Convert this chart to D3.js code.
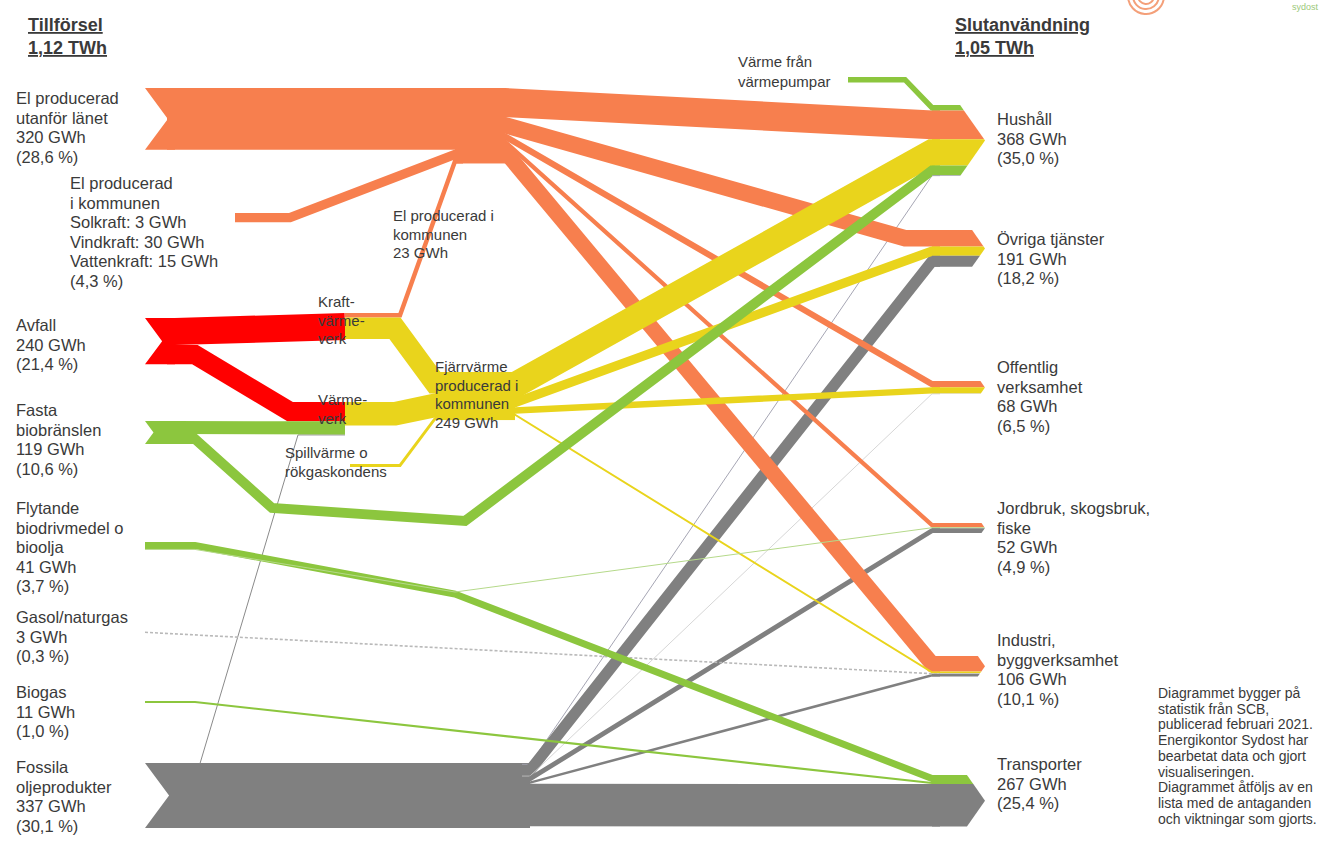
<!DOCTYPE html>
<html>
<head>
<meta charset="utf-8">
<script src="https://cdn.jsdelivr.net/npm/d3@7"></script>
<style>
  body { margin: 0; background: #fff; }
  svg text { font-family: "Liberation Sans", Arial, sans-serif; fill: #3a3a3a; }
</style>
</head>
<body>
<svg id="chart" width="1342" height="860"></svg>
<script>
// Tillförsel (GWh)
const supplyIds = ["elUt", "elKom", "avfall", "fasta", "flyt", "gas", "biogas", "fossil"];
const supplyNames = [
  ["El producerad", "utanför länet"],
  ["El producerad", "i kommunen"],
  ["Avfall"],
  ["Fasta", "biobränslen"],
  ["Flytande", "biodrivmedel o", "bioolja"],
  ["Gasol/naturgas"],
  ["Biogas"],
  ["Fossila", "oljeprodukter"],
];
const supplyValues = [320, 48, 240, 119, 41, 3, 11, 337];
const supplyShares = ["28,6", "4,3", "21,4", "10,6", "3,7", "0,3", "1,0", "30,1"];
const elKomParts = ["Solkraft", "Vindkraft", "Vattenkraft"];
const elKomValues = [3, 30, 15];

// Slutanvändning (GWh)
const useIds = ["hushall", "ovriga", "offentlig", "jordbruk", "industri", "transport"];
const useNames = [
  ["Hushåll"],
  ["Övriga tjänster"],
  ["Offentlig", "verksamhet"],
  ["Jordbruk, skogsbruk,", "fiske"],
  ["Industri,", "byggverksamhet"],
  ["Transporter"],
];
const useValues = [368, 191, 68, 52, 106, 267];
const useShares = ["35,0", "18,2", "6,5", "4,9", "10,1", "25,4"];

// omvandling i kommunen
const midIds = ["elHub", "kvv", "vv", "fvHub", "spill", "vp"];
const midValues = [391, 140, 173, 249, 15, 28];

// flöden [från, till, GWh] - ordningen styr staplingen i noderna
const flows = [
  ["elUt", "elHub", 320],
  ["elKom", "elHub", 48],
  ["kvv", "elHub", 23],
  ["avfall", "kvv", 140],
  ["avfall", "vv", 100],
  ["fasta", "vv", 68],
  ["fossil", "vv", 5],
  ["kvv", "fvHub", 112],
  ["vv", "fvHub", 122],
  ["spill", "fvHub", 15],
  ["vp", "hushall", 28],
  ["elHub", "hushall", 150],
  ["elHub", "ovriga", 85],
  ["elHub", "offentlig", 32],
  ["elHub", "jordbruk", 22],
  ["elHub", "industri", 80],
  ["fvHub", "hushall", 135],
  ["fvHub", "ovriga", 48],
  ["fvHub", "offentlig", 33],
  ["fvHub", "industri", 10],
  ["fasta", "hushall", 51],
  ["flyt", "transport", 36],
  ["flyt", "jordbruk", 5],
  ["gas", "industri", 3],
  ["biogas", "transport", 11],
  ["fossil", "hushall", 4],
  ["fossil", "ovriga", 58],
  ["fossil", "offentlig", 3],
  ["fossil", "jordbruk", 25],
  ["fossil", "industri", 13],
  ["fossil", "transport", 220],
];

// ---- layout ----
const nodeLayout = {
  elUt: { x0: 145, x1: 175, y0: 88, kind: "tail", carrier: "el" },
  elKom: { x0: 235, x1: 235, y0: 213, carrier: "el" },
  avfall: { x0: 145, x1: 175, y0: 318, kind: "tail", carrier: "avfall" },
  fasta: { x0: 145, x1: 175, y0: 421, kind: "tail", carrier: "bio" },
  flyt: { x0: 145, x1: 145, y0: 542, carrier: "bio" },
  gas: { x0: 145, x1: 145, y0: 632, carrier: "gas" },
  biogas: { x0: 145, x1: 145, y0: 701, carrier: "bio" },
  fossil: { x0: 145, x1: 530, y0: 763, kind: "tail", carrier: "oil" },
  elHub: { x0: 455, x1: 505, y0: 88, kind: "block", carrier: "el" },
  kvv: { x0: 345, x1: 345, y0: 313, carrier: "avfall" },
  vv: { x0: 345, x1: 345, y0: 402, carrier: "avfall" },
  fvHub: { x0: 435, x1: 515, y0: 372, kind: "block", carrier: "fv" },
  spill: { x0: 350, x1: 350, y0: 464, carrier: "fv" },
  vp: { x0: 848, x1: 848, y0: 77, carrier: "bio" },
  hushall: { x0: 932, y0: 105, kind: "arrow" },
  ovriga: { x0: 932, y0: 230, kind: "arrow" },
  offentlig: { x0: 932, y0: 381, kind: "arrow" },
  jordbruk: { x0: 932, y0: 523, kind: "arrow" },
  industri: { x0: 932, y0: 656, kind: "arrow" },
  transport: { x0: 932, y0: 775, kind: "arrow" },
};

// brytpunkter: "s" = flödets höjd vid källan, "t" = vid målet
const routes = {
  "elKom>elHub": { via: [[290, "s"]] },
  "kvv>elHub": { via: [[400, "s"]] },
  "avfall>vv": { via: [[195, "s"], [290, "t"]] },
  "fossil>vv": { startX: 200, via: [[298, "t"]], color: "#8a8a8a" },
  "kvv>fvHub": { via: [[395, "s"]] },
  "vv>fvHub": { via: [[395, "s"]] },
  "spill>fvHub": { via: [[400, "s"]] },
  "vp>hushall": { via: [[905, "s"]] },
  "fasta>hushall": { via: [[195, "s"], [272, 508], [465, 521]] },
  "flyt>transport": { via: [[195, "s"], [455, 594]] },
  "flyt>jordbruk": { via: [[195, "s"], [455, 592]], color: "#b5d98a" },
  "biogas>transport": { via: [[195, "s"]] },
  "gas>industri": { dash: "3,2" },
  "fossil>hushall": { color: "#a6a6b4" },
  "fossil>offentlig": { color: "#d6d6d6" },
  "elHub>ovriga": { via: [[905, "t"]] },
};

const colors = {
  el: "#F77F4E",
  avfall: "#FF0000",
  fv: "#E9D41C",
  bio: "#8CC63E",
  oil: "#808080",
  gas: "#b9b9b9",
};

const k = d3.scaleLinear().domain([0, 100]).range([0, 19.3]);

const values = new Map();
supplyIds.forEach((id, i) => values.set(id, supplyValues[i]));
useIds.forEach((id, i) => values.set(id, useValues[i]));
midIds.forEach((id, i) => values.set(id, midValues[i]));

const nodes = new Map(
  Object.entries(nodeLayout).map(([id, n]) => [
    id,
    { id, ...n, value: values.get(id), outY: n.y0, inY: n.y0 },
  ])
);

const links = flows.map(([source, target, value]) => {
  const s = nodes.get(source);
  const t = nodes.get(target);
  const w = k(value);
  const l = { source, target, value, w };
  l.ys = s.outY + w / 2;
  s.outY += w;
  l.yt = t.inY + w / 2;
  t.inY += w;
  l.ya = t.inY - w;
  l.yb = t.inY;
  l.route = routes[source + ">" + target] || {};
  if (target === "elHub") l.carrier = "el";
  else if (target === "fvHub") l.carrier = "fv";
  else l.carrier = s.carrier;
  return l;
});

function points(l) {
  const s = nodes.get(l.source);
  const t = nodes.get(l.target);
  const r = l.route;
  const p = [];
  const sx = r.startX != null ? r.startX : s.x1;
  if (r.startX == null && (s.kind === "tail" || s.kind === "block")) p.push([sx - 8, l.ys]);
  p.push([sx, l.ys]);
  (r.via || []).forEach(([x, y]) => {
    p.push([x, y === "s" ? l.ys : y === "t" ? l.yt : y]);
  });
  p.push([t.x0, l.yt]);
  if (t.kind === "arrow" || t.kind === "block") p.push([t.x0 + 8, l.yt]);
  return p;
}

const svg = d3.select("#chart");

// logo (avskuren i överkanten)
const logo = svg.append("g").attr("fill", "none").attr("stroke", "#F4A07A").attr("stroke-width", 2);
[8, 13, 18].forEach((r) => {
  logo.append("path").attr("d", d3.arc()({ innerRadius: r, outerRadius: r, startAngle: Math.PI * 0.55, endAngle: Math.PI * 1.5 }))
    .attr("transform", "translate(1146,-4)");
});
svg.append("text").attr("x", 1292).attr("y", 10).attr("font-size", 9).style("fill", "#9cc97a").text("sydost");

// källnoder med pilstjärt
const gNodes = svg.append("g");
nodes.forEach((n) => {
  if (n.kind === "tail") {
    const h = k(n.value);
    const d = (h / 2) * 0.74;
    gNodes.append("polygon")
      .attr("points", [[n.x0, n.y0], [n.x1, n.y0], [n.x1, n.y0 + h], [n.x0, n.y0 + h], [n.x0 + d, n.y0 + h / 2]].join(" "))
      .attr("fill", colors[n.carrier]);
  }
});

// flöden
const line = d3.line();
const drawOrder = ["oil", "gas", "el", "avfall", "fv", "bio"];
const sorted = links.slice().sort((a, b) => drawOrder.indexOf(a.carrier) - drawOrder.indexOf(b.carrier));
svg.append("g")
  .selectAll("path")
  .data(sorted)
  .join("path")
  .attr("d", (l) => line(points(l)))
  .attr("fill", "none")
  .attr("stroke", (l) => l.route.color || colors[l.carrier])
  .attr("stroke-width", (l) => Math.max(l.w, l.route.dash ? 1.6 : 1))
  .attr("stroke-dasharray", (l) => l.route.dash || null)
  .attr("stroke-linejoin", "miter")
  .attr("stroke-miterlimit", 10);

// block för el och fjärrvärme
nodes.forEach((n) => {
  if (n.kind === "block") {
    svg.append("rect")
      .attr("x", n.x0).attr("y", n.y0)
      .attr("width", n.x1 - n.x0).attr("height", k(n.value))
      .attr("fill", colors[n.carrier]);
  }
});

// pilspetsar för slutanvändning
const tip = 985;
const gArrows = svg.append("g");
links.forEach((l) => {
  const t = nodes.get(l.target);
  if (t.kind !== "arrow") return;
  const h = k(t.value);
  const mid = t.y0 + h / 2;
  const edge = (y) => tip - Math.abs(y - mid) * 0.7;
  const a = l.ya, b = l.yb;
  const pts = [[t.x0, a], [edge(a), a]];
  if (a < mid && b > mid) pts.push([tip, mid]);
  pts.push([edge(b), b], [t.x0, b]);
  gArrows.append("polygon")
    .attr("points", pts.join(" "))
    .attr("fill", l.route.color || colors[l.carrier]);
});

// ---- texter ----
function block(x, y, lines, size, lh, weight) {
  const t = svg.append("text").attr("x", x).attr("y", y).attr("font-size", size);
  if (weight) t.attr("font-weight", weight);
  lines.forEach((s, i) => {
    t.append("tspan").attr("x", x).attr("y", y + i * lh).text(s);
  });
  return t;
}

const supplyLabelPos = [[16, 104], [70, 189], [16, 331], [16, 416], [16, 514], [16, 623], [16, 698], [16, 773]];
supplyIds.forEach((id, i) => {
  let lines = supplyNames[i].slice();
  if (id === "elKom") {
    elKomParts.forEach((p, j) => lines.push(`${p}: ${elKomValues[j]} GWh`));
  } else {
    lines.push(`${supplyValues[i]} GWh`);
  }
  lines.push(`(${supplyShares[i]} %)`);
  block(supplyLabelPos[i][0], supplyLabelPos[i][1], lines, 16.5, 19.6);
});

const useLabelPos = [[997, 125], [997, 245], [997, 373], [997, 514], [997, 646], [997, 770]];
useIds.forEach((id, i) => {
  const lines = useNames[i].concat([`${useValues[i]} GWh`, `(${useShares[i]} %)`]);
  block(useLabelPos[i][0], useLabelPos[i][1], lines, 16.5, 19.6);
});

block(393, 221, ["El producerad i", "kommunen", "23 GWh"], 15, 18.5);
block(318, 307, ["Kraft-", "värme-", "verk"], 15, 18.5);
block(318, 405, ["Värme-", "verk"], 15, 18.5);
block(285, 458, ["Spillvärme o", "rökgaskondens"], 15, 19);
block(435, 372, ["Fjärrvärme", "producerad i", "kommunen", `${midValues[3]} GWh`], 15, 18.5);
block(738, 67, ["Värme från", "värmepumpar"], 15, 20);

block(28, 31, ["Tillförsel"], 18, 22, "bold").style("text-decoration", "underline");
block(28, 54, ["1,12 TWh"], 18, 22, "bold").style("text-decoration", "underline");
block(955, 31, ["Slutanvändning"], 18, 22, "bold").style("text-decoration", "underline");
block(955, 54, ["1,05 TWh"], 18, 22, "bold").style("text-decoration", "underline");

block(1158, 698, [
  "Diagrammet bygger på",
  "statistik från SCB,",
  "publicerad februari 2021.",
  "Energikontor Sydost har",
  "bearbetat data och gjort",
  "visualiseringen.",
  "Diagrammet åtföljs av en",
  "lista med de antaganden",
  "och viktningar som gjorts.",
], 14, 15.7);
</script>
</body>
</html>
